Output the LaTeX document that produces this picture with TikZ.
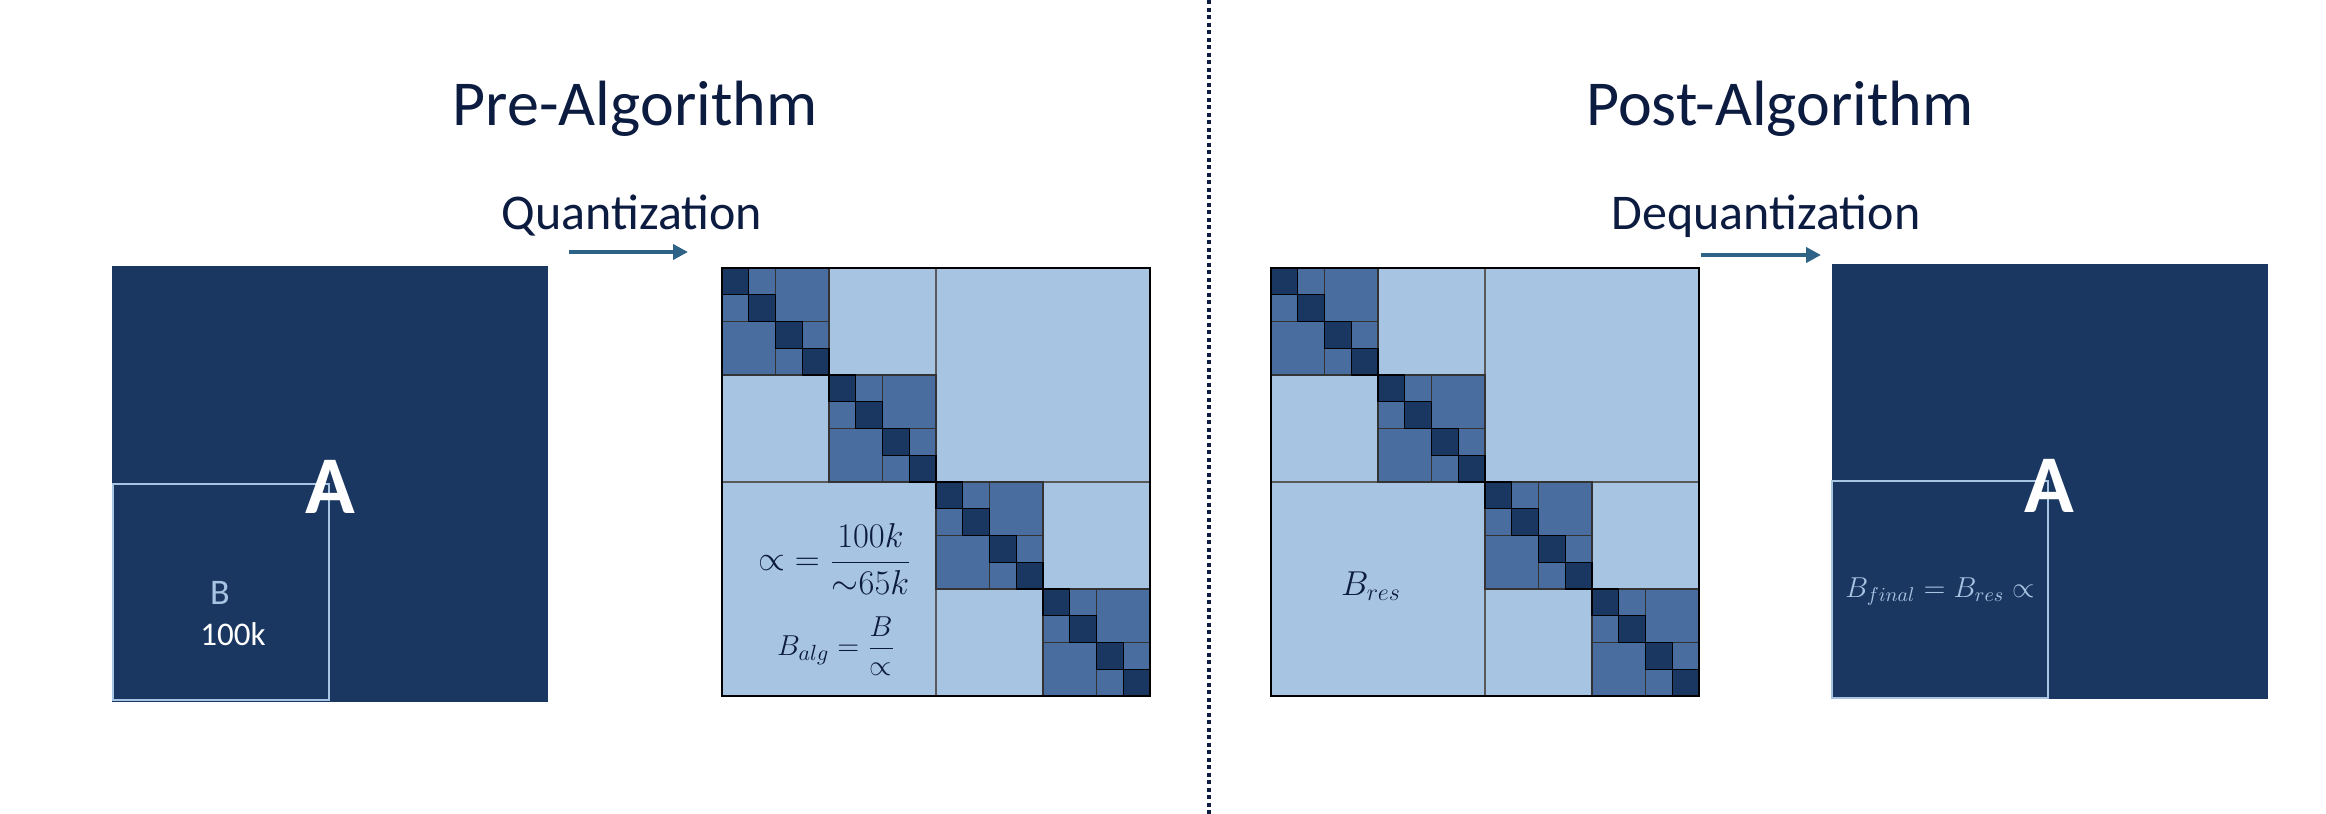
\documentclass[tikz,border=0pt]{standalone}
\usepackage{fontspec}
\setmainfont{Carlito}
\usetikzlibrary{arrows.meta}
\definecolor{navy}{HTML}{1A3761}
\definecolor{midblue}{HTML}{486D9E}
\definecolor{lightblue}{HTML}{A8C4E3}
\definecolor{titlec}{HTML}{0C1B40}
\definecolor{arrowc}{HTML}{2F6287}
\tikzset{
  lightcell/.style={fill=lightblue, draw=black!65, line width=0.7pt},
  midcell/.style={fill=midblue, draw=black!80, line width=0.7pt},
  darkcell/.style={fill=navy, draw=black, line width=0.7pt},
  bigsq/.style={fill=navy, draw=none},
  bbox/.style={draw=lightblue, line width=1pt},
  titletext/.style={text=titlec, inner sep=0pt, anchor=base, font=\fontsize{32}{38}\selectfont},
  subtext/.style={text=titlec, inner sep=0pt, anchor=base, font=\fontsize{25}{30}\selectfont},
  flowarrow/.style={draw=arrowc, line width=2pt, -{Triangle[length=7.5pt,width=7.5pt]}},
  bigA/.style={text=white, inner sep=0pt, anchor=base, font=\fontsize{41}{45}\selectfont\bfseries},
}
\newcommand\quadmatrix[2]{%
  \begin{scope}[shift={(#1,#2)}]
    \draw[lightcell] (214,0) rectangle (428,214);
    \draw[lightcell] (0,214) rectangle (214,428);
    \foreach \a in {0,214}{
      \draw[lightcell] (\a+107,\a) rectangle +(107,107);
      \draw[lightcell] (\a,\a+107) rectangle +(107,107);
    }
    \foreach \b in {0,107,214,321}{
      \draw[midcell] (\b+53.5,\b) rectangle +(53.5,53.5);
      \draw[midcell] (\b,\b+53.5) rectangle +(53.5,53.5);
      \foreach \c in {0,53.5}{
        \draw[midcell] (\b+\c+26.75,\b+\c) rectangle +(26.75,26.75);
        \draw[midcell] (\b+\c,\b+\c+26.75) rectangle +(26.75,26.75);
        \draw[darkcell] (\b+\c,\b+\c) rectangle +(26.75,26.75);
        \draw[darkcell] (\b+\c+26.75,\b+\c+26.75) rectangle +(26.75,26.75);
      }
    }
    \draw[black, line width=0.8pt] (0,0) rectangle (428,428);
  \end{scope}}
\begin{document}
\begin{tikzpicture}[x=0.5pt, y=-0.5pt]
\useasboundingbox (0,0) rectangle (2326,814);
\fill[white] (0,0) rectangle (2326,814);

% divider
\draw[titlec, line width=2pt, dash pattern=on 2pt off 1.75pt] (1209,0) -- (1209,814);

% titles
\node[titletext] (pre) at (635,125) {Pre-Algorithm};
\node[titletext] (post) at (1780,125) {Post-Algorithm};
\node[subtext] (quant) at (632,229) {Quantization};
\node[subtext] (dequant) at (1766,229) {Dequantization};

% arrows
\coordinate (q1) at (569,252);
\coordinate (q2) at (688,252);
\coordinate (d1) at (1701,255);
\coordinate (d2) at (1821,255);
\draw[flowarrow] (q1) -- (q2);
\draw[flowarrow] (d1) -- (d2);

% left big square
\fill[bigsq] (112,266) rectangle (548,702);
\draw[bbox] (113,484) rectangle (329,700);
\node[bigA] (A1) at (330,513) {A};
\node[text=lightblue, inner sep=0pt, anchor=base, font=\fontsize{18}{20}\selectfont] (Blab) at (220,604) {B};
\node[text=white, inner sep=0pt, anchor=base, font=\fontsize{16.5}{18}\selectfont] (hk) at (233,645) {100k};

% quantized matrices
\quadmatrix{722}{268}
\quadmatrix{1271}{268}

\node[text=titlec, inner sep=0pt, font=\fontsize{18}{22}\selectfont] (alpha) at (835,559) {$\displaystyle \propto\;=\frac{100k}{{\sim}65k}$};
\node[text=titlec, inner sep=0pt, font=\fontsize{15}{18}\selectfont] (balg) at (836,646) {$\displaystyle B_{alg}=\frac{B}{\propto}$};
\node[text=titlec, inner sep=0pt, anchor=base, font=\fontsize{17}{20}\selectfont] (bres) at (1371,595) {$B_{res}$};

% right big square
\fill[bigsq] (1832,264) rectangle (2268,699);
\draw[bbox] (1832,481) rectangle (2048,698);
\node[bigA] (A2) at (2049,512) {A};
\node[text=lightblue, inner sep=0pt, anchor=base, font=\fontsize{14.5}{17}\selectfont] (bfinal) at (1940,597) {$B_{final}=B_{res}\propto$};
\end{tikzpicture}
\end{document}
